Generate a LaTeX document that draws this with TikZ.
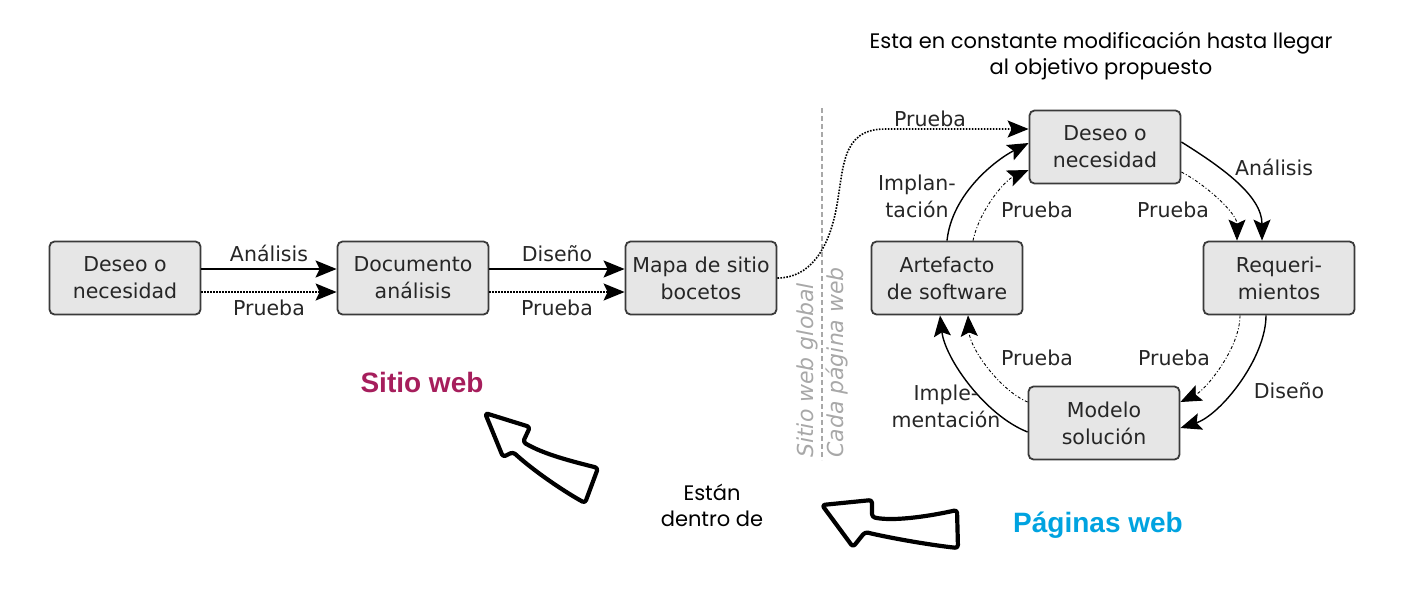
\documentclass[tikz,border=0pt]{standalone}
\usepackage{fontspec}
\usetikzlibrary{arrows.meta,calc}
\newfontfamily\djv{DejaVu Sans}
\newfontfamily\pop{Poppins}
\newfontfamily\ars{Liberation Sans}
\definecolor{boxfill}{HTML}{E6E6E6}
\definecolor{boxline}{HTML}{3A3A3A}
\definecolor{txt}{HTML}{262626}
\definecolor{sitio}{HTML}{A61E5C}
\definecolor{paginas}{HTML}{00A3E0}
\definecolor{divgray}{HTML}{A8A8A8}
\tikzset{
  stepbox/.style={draw=boxline, fill=boxfill, line width=1.8pt, rounded corners=5pt,
    minimum width=151pt, minimum height=73pt, inner sep=0pt, align=center,
    text=txt, font=\djv\fontsize{20.5}{27}\selectfont},
  lbl/.style={text=txt, font=\djv\fontsize{20.5}{27}\selectfont, align=center, inner sep=0pt},
  tip/.style={-{Stealth[length=21pt,width=17pt,inset=4pt]}},
  thick2/.style={line width=2pt, draw=black},
  thin1/.style={line width=1.4pt, draw=black},
  dots/.style={line width=1.6pt, dash pattern=on 1.6pt off 1.4pt},
  dashdot/.style={line width=0.9pt, dash pattern=on 3pt off 2pt on 1pt off 2pt},
  hand/.style={line width=4.2pt, line join=round, rounded corners=3pt},
  note/.style={font=\pop\fontsize{21}{26}\selectfont, align=center, inner sep=0pt},
  title/.style={font=\ars\bfseries\fontsize{28}{32}\selectfont, inner sep=0pt},
  side/.style={text=divgray, font=\djv\itshape\fontsize{22}{24}\selectfont, inner sep=0pt}
}
\begin{document}
\begin{tikzpicture}[x=1pt,y=-1pt]
\useasboundingbox (0,0) rectangle (1421,603);
% left chain
\node[stepbox] (d1) at (125,278) {Deseo o\\necesidad};
\node[stepbox] (doc) at (413,278) {Documento\\análisis};
\node[stepbox] (map) at (701,278) {Mapa de sitio\\bocetos};
\draw[thick2,tip] ([yshift=9pt]d1.east) -- node[lbl, above=6pt] (la1) {Análisis} ([yshift=9pt]doc.west);
\draw[dots,tip] ([yshift=-14pt]d1.east) -- node[lbl, below=7pt] (lp1) {Prueba} ([yshift=-14pt]doc.west);
\draw[thick2,tip] ([yshift=9pt]doc.east) -- node[lbl, above=6pt] (ld1) {Diseño} ([yshift=9pt]map.west);
\draw[dots,tip] ([yshift=-14pt]doc.east) -- node[lbl, below=7pt] (lp2) {Prueba} ([yshift=-14pt]map.west);
% divider
\coordinate (divtop) at (822,108);
\coordinate (divbot) at (822,460);
\draw[divgray, line width=1.2pt, dash pattern=on 5pt off 3pt] (divtop) -- (divbot);
\node[side, rotate=90, anchor=south west] (sg) at (818,458) {Sitio web global};
\node[side, rotate=90, anchor=north west] (cp) at (826,458) {Cada página web};
% cycle
\node[stepbox] (top) at (1105,147) {Deseo o\\necesidad};
\node[stepbox] (art) at (947,278) {Artefacto\\de software};
\node[stepbox] (req) at (1279,278) {Requeri-\\mientos};
\node[stepbox] (mod) at (1104,423) {Modelo\\solución};
% outer prueba
\draw[dots,tip] (map.east) .. controls +(32,0) and +(-8,40) .. (836,210)
   .. controls +(8,-40) and +(-45,0) .. (885,129) -- ([yshift=18pt]top.west);
\node[lbl] (lpo) at (930,119) {Prueba};
% top -> req
\draw[thin1,tip] ([yshift=5pt]top.east) .. controls +(40,25) and +(0,-45) .. ([xshift=-17pt]req.north);
\draw[dashdot,tip] ([yshift=-25pt]top.east) .. controls +(25,13) and +(0,-27) .. ([xshift=-42pt]req.north);
\node[lbl] (lan) at (1274,167) {Análisis};
\node[lbl] (lpr1) at (1173,210) {Prueba};
% req -> mod
\draw[thin1,tip] ([xshift=-13pt]req.south) .. controls +(0,43) and +(40,-13) .. ([yshift=-5pt]mod.east);
\draw[dashdot,tip] ([xshift=-39pt]req.south) .. controls +(0,33) and +(25,-12) .. ([yshift=21pt]mod.east);
\node[lbl] (ldi) at (1289,391) {Diseño};
\node[lbl] (lpr2) at (1174,358) {Prueba};
% mod -> art
\draw[thin1,tip] ([yshift=-9pt]mod.west) .. controls +(-43,-17) and +(5,43) .. ([xshift=-7pt]art.south);
\draw[dashdot,tip] ([yshift=21pt]mod.west) .. controls +(-28,-12) and +(2,33) .. ([xshift=21pt]art.south);
\node[lbl] (lim) at (946,406) {Imple-\\mentación};
\node[lbl] (lpr3) at (1037,358) {Prueba};
% art -> top
\draw[thin1,tip] (art.north) .. controls +(5,-47) and +(-33,17) .. ([yshift=4pt]top.west);
\draw[dashdot,tip] ([xshift=26pt]art.north) .. controls +(7,-32) and +(-23,10) .. ([yshift=-23pt]top.west);
\node[lbl] (lit) at (917,196) {Implan-\\tación};
\node[lbl] (lpr4) at (1037,210) {Prueba};
% notes
\node[note] (n1) at (1101,56) {Esta en constante modificación hasta llegar\\al objetivo propuesto};
\node[note] (n2) at (712,505) {Están\\dentro de};
\node[title, text=sitio] (t1) at (422,382) {Sitio web};
\node[title, text=paginas] (t2) at (1098,525) {Páginas web};
% hand arrows
\draw[hand] (485,413) -- (530,427) -- (523,442) .. controls (545,455) and (575,462) .. (598,468)
  -- (585,503) .. controls (565,492) and (535,472) .. (513,452) -- (503,457) -- cycle;
\draw[hand] (822,505) -- (872,500) -- (872,517) .. controls (895,522) and (935,515) .. (957,510)
  -- (958,548) .. controls (930,545) and (890,538) .. (865,532) -- (853,547) -- cycle;
\end{tikzpicture}
\end{document}
